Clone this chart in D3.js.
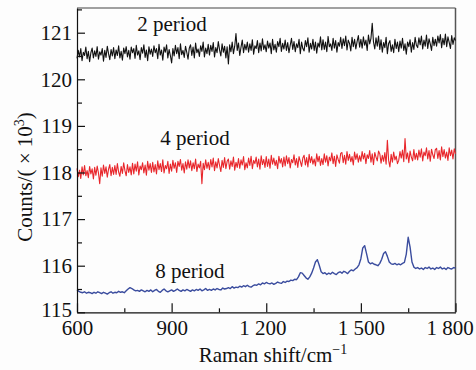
<!DOCTYPE html>
<html>
<head>
<meta charset="utf-8">
<script src="https://cdn.jsdelivr.net/npm/d3@7"></script>
<style>
  body { margin: 0; background: #fdfdfd; }
  svg { display: block; }
  text { font-family: "Liberation Serif", "Times New Roman", serif; fill: #111; }
</style>
</head>
<body>
<svg id="chart" width="476" height="370"></svg>
<script>
// Raman shift sampling grids (cm^-1)
const shiftFine = d3.range(600, 1801, 4);   // noisy spectra
const shiftCoarse = d3.range(600, 1801, 6); // 8 period spectrum

const period2 = [
  120.45,120.62,120.48,120.66,120.40,120.58,120.51,120.69,120.44,120.60,120.38,120.57,120.67,120.46,120.61,
  120.49,120.70,120.43,120.59,120.52,120.66,120.39,120.62,120.47,120.71,120.55,120.42,120.64,120.50,120.68,
  120.44,120.63,120.51,120.72,120.46,120.60,120.41,120.67,120.55,120.70,120.48,120.62,120.43,120.69,120.57,
  120.66,120.45,120.73,120.52,120.61,120.42,120.68,120.56,120.74,120.47,120.63,120.40,120.70,120.54,120.65,
  120.49,120.72,120.57,120.66,120.44,120.75,120.52,120.63,120.41,120.69,120.58,120.74,120.46,120.64,120.51,
  120.35,120.66,120.50,120.73,120.55,120.68,120.44,120.76,120.53,120.62,120.47,120.71,120.58,120.43,120.67,
  120.74,120.51,120.69,120.46,120.78,120.57,120.65,120.49,120.72,120.60,120.80,120.48,120.67,120.55,120.75,
  120.52,120.73,120.60,120.79,120.48,120.68,120.57,120.81,120.63,120.50,120.76,120.58,120.71,120.46,120.70,
  120.33,120.74,120.59,120.80,120.55,120.71,120.98,120.62,120.78,120.51,120.69,120.84,120.57,120.75,120.63,
  120.80,120.58,120.76,120.62,120.85,120.54,120.72,120.66,120.83,120.57,120.78,120.61,120.87,120.64,120.74,
  120.59,120.82,120.67,120.78,120.55,120.86,120.63,120.75,120.58,120.81,120.70,120.88,120.60,120.77,120.65,
  120.84,120.62,120.79,120.57,120.73,120.88,120.64,120.81,120.59,120.76,120.68,120.86,120.55,120.80,120.66,
  120.61,120.83,120.70,120.89,120.58,120.77,120.65,120.86,120.62,120.80,120.56,120.78,120.69,120.91,120.63,
  120.85,120.64,120.80,120.59,120.92,120.70,120.76,120.62,120.88,120.67,120.83,120.58,120.79,120.71,120.90,
  120.66,120.87,120.72,120.93,120.63,120.84,120.77,120.61,120.90,120.70,120.86,120.65,120.81,120.94,120.69,
  120.86,120.67,120.91,120.73,120.84,120.62,120.95,120.76,120.88,121.20,120.80,120.65,120.89,120.71,120.93,
  120.64,120.85,120.58,120.79,120.68,120.90,120.55,120.77,120.83,120.60,120.74,120.57,120.86,120.66,120.80,
  120.59,120.82,120.67,120.88,120.62,120.76,120.54,120.80,120.70,120.85,120.58,120.79,120.64,120.90,120.73,
  120.68,120.89,120.74,120.93,120.65,120.84,120.71,120.95,120.66,120.87,120.76,120.62,120.90,120.72,120.86,
  120.71,120.93,120.78,120.96,120.68,120.88,120.74,120.97,120.70,120.91,120.79,120.66,120.94,120.75,120.89,
  120.83
];

const period4 = [
  118.09,117.91,118.05,117.87,118.12,117.95,118.15,117.93,118.04,117.89,118.13,117.97,118.08,117.86,118.11,
  117.94,118.14,117.99,117.76,118.10,117.92,118.16,117.98,118.12,117.90,118.07,118.17,117.93,118.11,117.96,
  118.15,117.96,118.19,118.01,117.92,118.13,117.98,118.21,118.04,117.93,118.17,118.00,118.12,117.95,118.20,
  117.97,118.18,118.03,118.23,117.95,118.14,118.06,118.21,117.99,118.16,117.94,118.24,118.05,118.19,118.00,
  118.22,118.01,118.17,117.97,118.25,118.06,118.19,118.02,118.27,117.99,118.15,118.08,118.24,117.98,118.18,
  118.03,118.26,118.09,118.21,118.00,118.24,118.13,118.28,118.05,118.19,117.99,118.23,118.07,118.27,118.10,
  118.25,118.04,118.21,118.08,118.29,118.02,118.18,118.10,118.24,117.76,118.20,118.06,118.27,118.09,118.22,
  118.06,118.28,118.12,118.31,118.04,118.23,118.10,118.30,118.15,118.02,118.26,118.11,118.32,118.08,118.24,
  118.29,118.07,118.25,118.13,118.33,118.05,118.22,118.11,118.30,118.09,118.27,118.16,118.34,118.06,118.21,
  118.10,118.31,118.15,118.35,118.08,118.26,118.19,118.33,118.12,118.29,118.07,118.36,118.17,118.28,118.11,
  118.34,118.13,118.29,118.09,118.37,118.18,118.31,118.15,118.26,118.08,118.35,118.20,118.30,118.12,118.33,
  118.14,118.36,118.19,118.32,118.10,118.28,118.21,118.38,118.16,118.30,118.11,118.34,118.24,118.13,118.31,
  118.37,118.16,118.32,118.12,118.39,118.21,118.34,118.18,118.29,118.14,118.40,118.23,118.35,118.15,118.30,
  118.17,118.40,118.22,118.36,118.14,118.33,118.25,118.42,118.19,118.35,118.13,118.38,118.28,118.20,118.41,
  118.43,118.21,118.37,118.18,118.45,118.26,118.39,118.23,118.34,118.16,118.44,118.28,118.40,118.22,118.36,
  118.24,118.45,118.29,118.41,118.19,118.38,118.30,118.47,118.22,118.40,118.17,118.43,118.33,118.25,118.46,
  118.40,118.20,118.37,118.24,118.43,118.18,118.69,118.26,118.12,118.39,118.22,118.44,118.27,118.35,118.19,
  118.26,118.45,118.31,118.48,118.23,118.73,118.29,118.42,118.21,118.46,118.33,118.25,118.49,118.28,118.41,
  118.27,118.48,118.33,118.51,118.25,118.44,118.36,118.53,118.29,118.47,118.24,118.50,118.38,118.30,118.49,
  118.52,118.30,118.47,118.27,118.55,118.34,118.49,118.31,118.44,118.26,118.53,118.36,118.48,118.29,118.51,
  118.40
];

const period8 = [
  115.48,115.45,115.43,115.42,115.44,115.41,115.43,115.42,115.40,115.43,
  115.41,115.44,115.42,115.40,115.43,115.41,115.39,115.42,115.44,115.41,
  115.43,115.42,115.45,115.43,115.44,115.42,115.46,115.50,115.53,115.51,
  115.48,115.46,115.47,115.45,115.48,115.46,115.44,115.47,115.45,115.48,
  115.44,115.47,115.49,115.45,115.43,115.47,115.50,115.46,115.44,115.46,
  115.48,115.45,115.47,115.50,115.47,115.45,115.48,115.46,115.49,115.47,
  115.45,115.48,115.46,115.49,115.47,115.50,115.46,115.48,115.51,115.47,
  115.49,115.47,115.50,115.48,115.51,115.49,115.48,115.52,115.50,115.51,
  115.53,115.51,115.55,115.52,115.54,115.53,115.56,115.54,115.57,115.55,
  115.58,115.55,115.54,115.57,115.59,115.58,115.61,115.59,115.63,115.61,
  115.64,115.62,115.61,115.63,115.60,115.62,115.65,115.63,115.62,115.66,
  115.64,115.67,115.66,115.69,115.68,115.71,115.70,115.76,115.85,115.84,
  115.79,115.74,115.71,115.76,115.84,115.95,116.08,116.13,116.01,115.87,
  115.83,115.85,115.81,115.84,115.82,115.86,115.83,115.81,115.85,115.87,
  115.84,115.88,115.86,115.83,115.88,115.91,115.89,115.93,115.96,116.02,
  116.15,116.38,116.43,116.26,116.08,116.04,116.06,116.03,116.02,116.00,
  116.05,116.14,116.26,116.30,116.20,116.08,116.04,116.03,116.05,116.02,
  116.04,116.02,116.05,116.07,116.25,116.61,116.40,116.08,115.97,115.94,
  115.96,115.93,115.95,115.92,115.96,115.94,115.97,115.93,115.95,115.92,
  115.96,115.94,115.97,115.93,115.95,115.92,115.96,115.94,115.93,115.96,
  115.95
];

const xTicks = [600, 900, 1200, 1500, 1800];
const xMinorTicks = [750, 1050, 1350, 1650];
const yTicks = [115, 116, 117, 118, 119, 120, 121];
const yMinorTicks = [115.5, 116.5, 117.5, 118.5, 119.5, 120.5, 121.5];

const seriesNames = ['2 period', '4 period', '8 period'];
const seriesColors = ['#111111', '#e8262b', '#3a4c9e'];
const seriesWidths = [1.1, 1.1, 1.4];
// label anchor positions in data units (shift, counts)
const labelShift = [901, 974, 958];
const labelCounts = [121.04, 118.59, 115.74];

const svg = d3.select('#chart');
const plotLeft = 77, plotRight = 455.5, plotTop = 8, plotBottom = 312.3;

const x = d3.scaleLinear().domain([600, 1800]).range([plotLeft, plotRight]);
const y = d3.scaleLinear().domain([115, 121.53]).range([plotBottom, plotTop]);

const fmt = (d) => d >= 1000 ? Math.floor(d / 1000) + ' ' + String(d % 1000).padStart(3, '0') : String(d);

// frame top/right
svg.append('line').attr('x1', plotLeft).attr('x2', plotRight).attr('y1', plotTop).attr('y2', plotTop)
  .attr('stroke', '#444').attr('stroke-width', 1.2);
svg.append('line').attr('x1', plotRight).attr('x2', plotRight).attr('y1', plotTop).attr('y2', plotBottom)
  .attr('stroke', '#555').attr('stroke-width', 1.5);

// lines
const data = [period2, period4, period8];
const grids = [shiftFine, shiftFine, shiftCoarse];
data.forEach((vals, s) => {
  const line = d3.line().x((d, i) => x(grids[s][i])).y((d) => y(d));
  svg.append('path')
    .datum(vals)
    .attr('fill', 'none')
    .attr('stroke', seriesColors[s])
    .attr('stroke-width', seriesWidths[s])
    .attr('stroke-linejoin', 'round')
    .attr('d', line);
});

// x axis
const gx = svg.append('g').attr('transform', 'translate(0,' + plotBottom + ')');
gx.call(d3.axisBottom(x).tickValues(xTicks).tickFormat(fmt).tickSizeInner(-9).tickSizeOuter(0).tickPadding(8));
gx.append('g').call(d3.axisBottom(x).tickValues(xMinorTicks).tickFormat('').tickSizeInner(-4).tickSizeOuter(0))
  .select('.domain').remove();
gx.selectAll('text').attr('font-size', 21).attr('font-family', '"Liberation Serif", serif').attr('fill', '#111');
gx.selectAll('.tick text').filter((d) => d === 1800).attr('dx', -6);
gx.selectAll('.tick text').filter((d) => d === 1200).attr('dx', -4);

// y axis
const gy = svg.append('g').attr('transform', 'translate(' + plotLeft + ',0)');
gy.call(d3.axisLeft(y).tickValues(yTicks).tickFormat(d3.format('d')).tickSizeInner(-8).tickSizeOuter(0).tickPadding(5));
gy.append('g').call(d3.axisLeft(y).tickValues(yMinorTicks).tickFormat('').tickSizeInner(-5).tickSizeOuter(0))
  .select('.domain').remove();
gy.selectAll('text').attr('font-size', 21).attr('font-family', '"Liberation Serif", serif').attr('fill', '#111');
gy.selectAll('.tick text').filter((d) => d === 115).attr('dy', '0.2em');
svg.selectAll('.domain, .tick line').attr('stroke', '#111').attr('stroke-width', 1.2);

// series labels
seriesNames.forEach((name, s) => {
  svg.append('text')
    .attr('x', x(labelShift[s]))
    .attr('y', y(labelCounts[s]))
    .attr('text-anchor', 'middle')
    .attr('font-size', 21)
    .text(name);
});

// axis titles
const xt = svg.append('text')
  .attr('x', 273).attr('y', 362)
  .attr('text-anchor', 'middle')
  .attr('font-size', 21);
xt.append('tspan').text('Raman shift/cm');
xt.append('tspan').attr('dy', -8).attr('font-size', 14).text('\u22121');

const yt = svg.append('text')
  .attr('transform', 'translate(32,177) rotate(-90)')
  .attr('text-anchor', 'middle')
  .attr('font-size', 21);
yt.append('tspan').text('Counts/( \u00d7 10');
yt.append('tspan').attr('dy', -8).attr('font-size', 14).text('3');
yt.append('tspan').attr('dy', 8).text(')');
</script>
</body>
</html>
